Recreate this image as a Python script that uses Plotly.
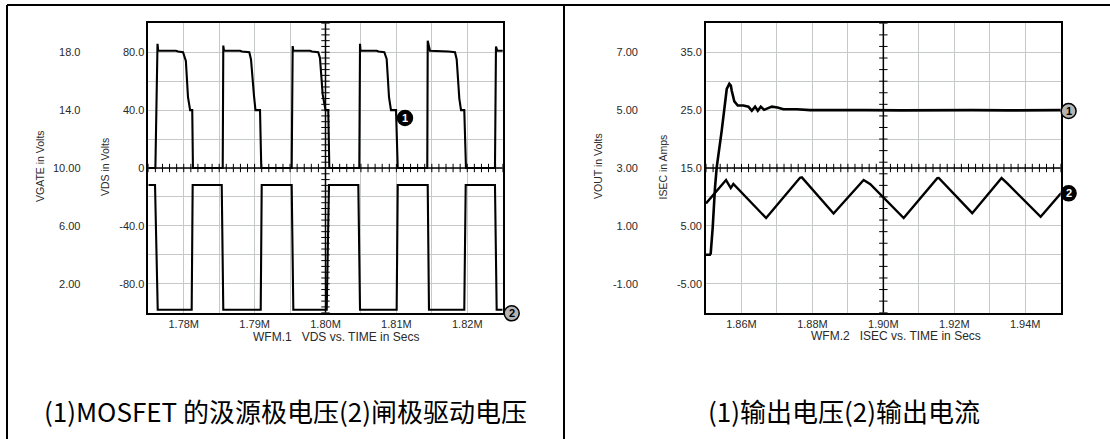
import plotly.graph_objects as go

# ---------------- data (times in ms, shown as "M" on the axis) ----------------
vds_t = [1.7750, 1.7760, 1.7763, 1.7764, 1.7789, 1.7792, 1.7799, 1.7803, 1.7806, 1.7808, 1.7809, 1.7812, 1.7813,
         1.78550, 1.78558, 1.78568, 1.78794, 1.78822, 1.78925, 1.78949, 1.78991, 1.79005, 1.79012, 1.79076, 1.79094,
         1.79523, 1.79537, 1.79546, 1.79781, 1.79809, 1.79898, 1.79922, 1.79960, 1.79993, 1.80000, 1.80039, 1.80054,
         1.80477, 1.80487, 1.80494, 1.80722, 1.80748, 1.80830, 1.80863, 1.80896, 1.80920, 1.80924, 1.80995, 1.81019,
         1.81436, 1.81442, 1.81474, 1.81710, 1.81735, 1.81827, 1.81851, 1.81888, 1.81907, 1.81912, 1.81958, 1.81982,
         1.82391, 1.82405, 1.82424, 1.82550]
vds_v = [0, 0, 85.8, 81, 81, 80.5, 80, 74, 49, 41.5, 40, 40, 0,
         0, 84.6, 81, 81, 80.5, 80, 75, 50, 40.8, 40, 40, 0,
         0, 84.3, 81, 81, 80.5, 80, 76, 51, 40.8, 40, 40, 0,
         0, 85.8, 81, 81, 80.5, 80, 75.4, 48.9, 40.8, 40, 40, 0,
         0, 88.0, 81, 81, 80.5, 80, 75, 48, 41, 40, 40, 0,
         0, 84.0, 81, 81]

vgate_t = [1.7750, 1.77595, 1.77633, 1.78112, 1.78126, 1.78536, 1.78558, 1.79086, 1.79100, 1.79523, 1.79546,
           1.80017, 1.80049, 1.80463, 1.80487, 1.81004, 1.81019, 1.81442, 1.81460, 1.81958, 1.81978, 1.82391,
           1.82415, 1.8250]
vgate_v = [8.83, 8.83, 0.2, 0.2, 8.83, 8.83, 0.2, 0.2, 8.83, 8.83, 0.2,
           0.2, 8.83, 8.83, 0.2, 0.2, 8.83, 8.83, 0.2, 0.2, 8.83, 8.83,
           0.2, 0.2]

isec_t = [1.85000, 1.85565, 1.85698, 1.85771, 1.86695, 1.87650, 1.87703, 1.88596, 1.89444, 1.89633, 1.90573,
          1.91520, 1.91562, 1.92506, 1.93333, 1.93494, 1.94435, 1.95000]
isec_v = [8.88, 12.92, 11.54, 12.23, 6.35, 13.30, 13.37, 7.15, 12.92, 12.20, 6.35,
          13.25, 13.27, 7.20, 13.27, 12.34, 6.57, 10.60]

vout_t = [1.85000, 1.85110, 1.85133, 1.85189, 1.85254, 1.85302, 1.85444, 1.85517, 1.85585, 1.85658, 1.85700,
          1.85726, 1.85799, 1.85895, 1.86054, 1.86195, 1.86291, 1.86384, 1.86460, 1.86545, 1.86638, 1.86856,
          1.87014, 1.87184, 1.87562, 1.87938, 1.88600, 1.89500, 1.90500, 1.91500, 1.92500, 1.93500, 1.94500,
          1.95000]
vout_v = [0.00, 0.00, 0.05, 0.94, 2.33, 3.02, 4.30, 4.98, 5.73, 5.91, 5.85,
          5.67, 5.30, 5.16, 5.16, 5.12, 4.98, 5.12, 4.98, 5.12, 5.01, 5.12,
          5.09, 5.03, 5.03, 5.00, 4.99, 5.00, 4.99, 5.00, 5.00, 4.99, 5.00,
          5.00]

# ---------------- ticks / labels ----------------
lx_grid = [1.775, 1.780, 1.785, 1.790, 1.795, 1.800, 1.805, 1.810, 1.815, 1.820, 1.825]
lx_lab = ['', '1.78M', '', '1.79M', '', '1.80M', '', '1.81M', '', '1.82M', '']
vds_grid = [-100, -80, -60, -40, -20, 0, 20, 40, 60, 80, 100]
vds_lab = ['', '-80.0', '', '-40.0', '', '0', '', '40.0', '', '80.0', '']
vgate_ticks = [2, 6, 10, 14, 18]
vgate_lab = ['2.00', '6.00', '10.00', '14.0', '18.0']

rx_grid = [1.85, 1.86, 1.87, 1.88, 1.89, 1.90, 1.91, 1.92, 1.93, 1.94, 1.95]
rx_lab = ['', '1.86M', '', '1.88M', '', '1.90M', '', '1.92M', '', '1.94M', '']
isec_grid = [-10, -5, 0, 5, 10, 15, 20, 25, 30, 35, 40]
isec_lab = ['', '-5.00', '', '5.00', '', '15.0', '', '25.0', '', '35.0', '']
vout_ticks = [-1, 1, 3, 5, 7]
vout_lab = ['-1.00', '1.00', '3.00', '5.00', '7.00']

# ---------------- layout geometry ----------------
W, H = 1110, 439
def fx(p):
    return p / W
def fy(p):
    return 1 - p / H

L_DOM = [fx(148.3), fx(502.7)]
R_DOM = [fx(706.0), fx(1060.7)]
Y_DOM = [fy(312.7), fy(23.3)]

LXR = [1.775, 1.825]
RXR = [1.85, 1.95]
VDSR = [-100, 100]
ISR = [-10, 40]

GRID = '#c6cac6'
TXT = '#2a2a2a'
FONT = 'Liberation Sans, Arial, sans-serif'
tickfont = dict(family=FONT, size=11, color=TXT)

fig = go.Figure()

# graticule crosshair (centre lines with minor ticks every 1/5 division)
def crosshair(xa, ya, xr, yr, xstep, ystep):
    nx = int(round((xr[1] - xr[0]) / xstep))
    ny = int(round((yr[1] - yr[0]) / ystep))
    xc = (xr[0] + xr[1]) / 2
    yc = (yr[0] + yr[1]) / 2
    fig.add_trace(go.Scatter(x=[xr[0] + i * xstep for i in range(nx + 1)], y=[yc] * (nx + 1),
                             mode='lines+markers', line=dict(color='black', width=1.5),
                             marker=dict(symbol='line-ns-open', size=6, line=dict(color='black', width=1)),
                             xaxis=xa, yaxis=ya, hoverinfo='skip', showlegend=False))
    fig.add_trace(go.Scatter(x=[xc] * (ny + 1), y=[yr[0] + i * ystep for i in range(ny + 1)],
                             mode='lines+markers', line=dict(color='black', width=1.5),
                             marker=dict(symbol='line-ew-open', size=6, line=dict(color='black', width=1)),
                             xaxis=xa, yaxis=ya, hoverinfo='skip', showlegend=False))

crosshair('x', 'y', LXR, VDSR, 0.001, 4)
crosshair('x4', 'y5', RXR, ISR, 0.002, 2)

line = dict(color='black', width=2.1)
fig.add_trace(go.Scatter(x=vds_t, y=vds_v, mode='lines', line=line, xaxis='x', yaxis='y',
                         hoverinfo='skip', showlegend=False))
fig.add_trace(go.Scatter(x=vgate_t, y=vgate_v, mode='lines', line=line, xaxis='x', yaxis='y2',
                         hoverinfo='skip', showlegend=False))
fig.add_trace(go.Scatter(x=isec_t, y=isec_v, mode='lines', line=dict(color='black', width=2.4),
                         xaxis='x4', yaxis='y5', hoverinfo='skip', showlegend=False))
fig.add_trace(go.Scatter(x=vout_t, y=vout_v, mode='lines', line=dict(color='black', width=2.6),
                         xaxis='x4', yaxis='y6', hoverinfo='skip', showlegend=False))

frame = dict(showline=True, linecolor='black', linewidth=1.6, mirror=True, ticks='',
             zeroline=False, showgrid=True, gridcolor=GRID, gridwidth=1.3, tickfont=tickfont)

fig.update_layout(
    width=W, height=H, autosize=False,
    margin=dict(l=0, r=0, t=0, b=0),
    paper_bgcolor='white', plot_bgcolor='white',
    xaxis=dict(frame, domain=L_DOM, range=LXR, anchor='y', tickmode='array',
               tickvals=lx_grid, ticktext=lx_lab),
    yaxis=dict(frame, domain=Y_DOM, range=VDSR, anchor='x', tickmode='array',
               tickvals=vds_grid, ticktext=vds_lab),
    yaxis2=dict(domain=Y_DOM, range=[0, 20], overlaying='y', anchor='free', position=fx(80.5),
                side='left', tickmode='array', tickvals=vgate_ticks, ticktext=vgate_lab,
                showgrid=False, showline=False, zeroline=False, ticks='', tickfont=tickfont),
    xaxis4=dict(frame, domain=R_DOM, range=RXR, anchor='y5', tickmode='array',
                tickvals=rx_grid, ticktext=rx_lab),
    yaxis5=dict(frame, domain=Y_DOM, range=ISR, anchor='x4', tickmode='array',
                tickvals=isec_grid, ticktext=isec_lab),
    yaxis6=dict(domain=Y_DOM, range=[-2, 8], overlaying='y5', anchor='free', position=fx(638.0),
                side='left', tickmode='array', tickvals=vout_ticks, ticktext=vout_lab,
                showgrid=False, showline=False, zeroline=False, ticks='', tickfont=tickfont),
)

ann_font = dict(family=FONT, size=10.5, color=TXT)
title_font = dict(family=FONT, size=12, color=TXT)
cap_font = dict(family='Noto Sans CJK SC, sans-serif', size=26, color='black')
S = '\u00a0'
annots = [
    ('VGATE in Volts', 40.0, 166.0, -90, ann_font),
    ('VDS in Volts', 104.6, 167.5, -90, ann_font),
    ('VOUT in Volts', 598.0, 166.0, -90, ann_font),
    ('ISEC in Amps', 662.5, 167.0, -90, ann_font),
    ('WFM.1' + S * 3 + 'VDS vs. TIME in Secs', 336.0, 337.0, 0, title_font),
    ('WFM.2' + S * 3 + 'ISEC vs. TIME in Secs', 896.0, 335.7, 0, title_font),
    ('(1)MOSFET 的汲源极电压(2)闸极驱动电压', 285.5, 410.0, 0, cap_font),
    ('(1)输出电压(2)输出电流', 844.3, 410.0, 0, cap_font),
]
for txt, px, py, ang, fnt in annots:
    fig.add_annotation(text=txt, x=fx(px), y=fy(py), xref='paper', yref='paper',
                       xanchor='center', yanchor='middle', showarrow=False,
                       textangle=ang, font=fnt)

# trace identification badges
R = 7.5
badges = [(405.0, 118.0, '1', 'black', 'white'),
          (511.7, 313.3, '2', '#b4b4b4', 'black'),
          (1068.6, 111.0, '1', '#b4b4b4', 'black'),
          (1068.6, 193.3, '2', 'black', 'white')]
for bx, by, txt, fill, tcol in badges:
    fig.add_shape(type='circle', xref='paper', yref='paper',
                  x0=fx(bx - R), x1=fx(bx + R), y0=fy(by + R), y1=fy(by - R),
                  fillcolor=fill, line=dict(color='black', width=1.5), layer='above')
    fig.add_annotation(text=txt, x=fx(bx), y=fy(by), xref='paper', yref='paper',
                       xanchor='center', yanchor='middle', showarrow=False,
                       font=dict(family=FONT, size=11, color=tcol, weight='bold'))

# outer table frame
bl = dict(color='black', width=2)
fig.add_shape(type='line', xref='paper', yref='paper', x0=fx(7), x1=1.0, y0=fy(5), y1=fy(5), line=bl)
fig.add_shape(type='line', xref='paper', yref='paper', x0=fx(7), x1=fx(7), y0=fy(5), y1=0, line=bl)
fig.add_shape(type='line', xref='paper', yref='paper', x0=fx(564), x1=fx(564), y0=fy(5), y1=0, line=bl)

# remove the default 8px page margin so the figure sits at the window origin
fig.write_html('out.html', config={'displayModeBar': False},
               post_script="document.body.style.margin='0';document.body.style.overflow='hidden';")
